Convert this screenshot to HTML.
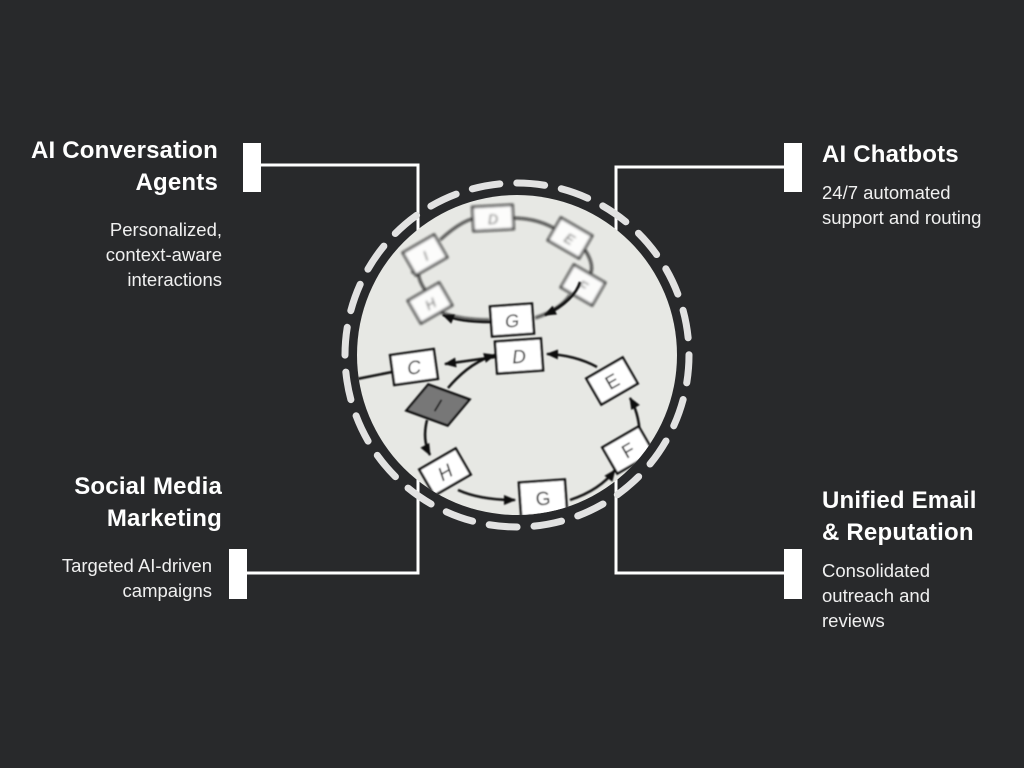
<!DOCTYPE html>
<html><head><meta charset="utf-8">
<style>
html,body{margin:0;padding:0;background:#28292b;}
body{width:1024px;height:768px;position:relative;overflow:hidden;font-family:"Liberation Sans",sans-serif;color:#fff;}
.t{position:absolute;font-weight:bold;font-size:24px;line-height:32px;letter-spacing:0.2px;}
.s{position:absolute;font-size:18.5px;line-height:25px;color:#f0f0f0;}
.r{text-align:right;}
</style></head><body>
<svg width="1024" height="768" style="position:absolute;left:0;top:0">
<defs>
<clipPath id="cp"><circle cx="517" cy="355" r="160"/></clipPath>
<filter id="bl"><feGaussianBlur stdDeviation="0.7"/></filter>
<filter id="bl2"><feGaussianBlur stdDeviation="1.4"/></filter>
<marker id="ar" markerUnits="userSpaceOnUse" markerWidth="12" markerHeight="10" refX="11" refY="5" orient="auto"><path d="M0,0 L12,5 L0,10 z" fill="#111"/></marker>
</defs>
<g stroke="#fff" stroke-width="3" fill="none">
<polyline points="261,165 418,165 418,573 246,573"/>
<polyline points="784,167 616,167 616,573 784,573"/>
</g>
<g fill="#fff">
<rect x="243" y="143" width="18" height="49"/>
<rect x="229" y="549" width="18" height="50"/>
<rect x="784" y="143" width="18" height="49"/>
<rect x="784" y="549" width="18" height="50"/>
</g>
<circle cx="517" cy="355" r="160" fill="#e7e8e4"/>
<g clip-path="url(#cp)" stroke="#111" stroke-width="2.5" fill="#fff">
<g filter="url(#bl2)" opacity="0.85">
<path d="M440,240 Q470,212 490,218 M512,218 Q540,218 560,232 M585,250 Q595,265 590,275 M570,295 Q560,310 535,318 M490,320 Q460,320 440,312 M425,290 Q415,275 420,265" fill="none" marker-end="url(#ar)"/>
<g transform="translate(493,218) rotate(-3)"><rect x="-20" y="-12" width="40" height="24"/><text x="0" y="6" font-size="14" font-style="italic" text-anchor="middle" fill="#222" stroke="none">D</text></g>
<g transform="translate(570,238) rotate(30)"><rect x="-18" y="-13" width="36" height="26"/><text x="0" y="6" font-size="14" font-style="italic" text-anchor="middle" fill="#222" stroke="none">E</text></g>
<g transform="translate(583,285) rotate(30)"><rect x="-18" y="-13" width="36" height="26"/><text x="0" y="6" font-size="14" font-style="italic" text-anchor="middle" fill="#222" stroke="none">F</text></g>
<g transform="translate(425,255) rotate(-30)"><rect x="-18" y="-13" width="36" height="26"/><text x="0" y="6" font-size="14" font-style="italic" text-anchor="middle" fill="#222" stroke="none">I</text></g>
<g transform="translate(430,303) rotate(-30)"><rect x="-18" y="-13" width="36" height="26"/><text x="0" y="6" font-size="14" font-style="italic" text-anchor="middle" fill="#222" stroke="none">H</text></g>
</g>
<g filter="url(#bl)">
<path d="M357,379 L392,372" fill="none"/>
<path d="M495,357 L445,364" fill="none" marker-end="url(#ar)"/>
<path d="M448,388 Q470,362 495,355" fill="none" marker-end="url(#ar)"/>
<path d="M597,367 Q575,355 547,354" fill="none" marker-end="url(#ar)"/>
<path d="M640,440 Q640,415 630,398" fill="none" marker-end="url(#ar)"/>
<path d="M427,420 Q422,440 430,455" fill="none" marker-end="url(#ar)"/>
<path d="M458,490 Q480,500 515,500" fill="none" marker-end="url(#ar)"/>
<path d="M570,500 Q600,490 615,470" fill="none" marker-end="url(#ar)"/>
<path d="M580,282 Q575,300 545,315" fill="none" marker-end="url(#ar)"/>
<path d="M490,322 Q460,322 443,315" fill="none" marker-end="url(#ar)"/>
<g transform="translate(512,320) rotate(-4)"><rect x="-21" y="-15" width="42" height="30"/><text x="0" y="7" font-size="18" font-style="italic" text-anchor="middle" fill="#111" stroke="none">G</text></g>
<g transform="translate(519,356) rotate(-4)"><rect x="-23" y="-16" width="46" height="32"/><text x="0" y="7" font-size="19" font-style="italic" text-anchor="middle" fill="#111" stroke="none">D</text></g>
<g transform="translate(414,367) rotate(-8)"><rect x="-22" y="-15" width="44" height="30"/><text x="0" y="7" font-size="19" font-style="italic" text-anchor="middle" fill="#111" stroke="none">C</text></g>
<g transform="translate(438,405) rotate(20)"><rect x="-22" y="-16" width="44" height="32" fill="#777" transform="skewX(-20)"/><text x="0" y="7" font-size="19" font-style="italic" text-anchor="middle" fill="#111" stroke="none">I</text></g>
<g transform="translate(612,381) rotate(-30)"><rect x="-21" y="-15" width="42" height="30"/><text x="0" y="7" font-size="19" text-anchor="middle" fill="#111" stroke="none">E</text></g>
<g transform="translate(628,450) rotate(-30)"><rect x="-21" y="-15" width="42" height="30"/><text x="0" y="7" font-size="19" text-anchor="middle" fill="#111" stroke="none">F</text></g>
<g transform="translate(445,472) rotate(-30)"><rect x="-21" y="-15" width="42" height="30"/><text x="0" y="7" font-size="19" font-style="italic" text-anchor="middle" fill="#111" stroke="none">H</text></g>
<g transform="translate(543,498) rotate(-4)"><rect x="-23" y="-17" width="46" height="34"/><text x="0" y="7" font-size="19" text-anchor="middle" fill="#111" stroke="none">G</text></g>
</g>
</g>
<circle cx="517" cy="355" r="172" fill="none" stroke="#e2e2e2" stroke-width="7" stroke-dasharray="28 17" stroke-linecap="round"/>
</svg>
<div class="t r" style="right:806px;top:135px">AI Conversation<br>Agents</div>
<div class="s r" style="right:802px;top:217px">Personalized,<br>context-aware<br>interactions</div>
<div class="t r" style="right:802px;top:471px">Social Media<br>Marketing</div>
<div class="s r" style="right:812px;top:553px">Targeted AI-driven<br>campaigns</div>
<div class="t" style="left:822px;top:139px">AI Chatbots</div>
<div class="s" style="left:822px;top:180px">24/7 automated<br>support and routing</div>
<div class="t" style="left:822px;top:485px">Unified Email<br>&amp; Reputation</div>
<div class="s" style="left:822px;top:558px">Consolidated<br>outreach and<br>reviews</div>
</body></html>
